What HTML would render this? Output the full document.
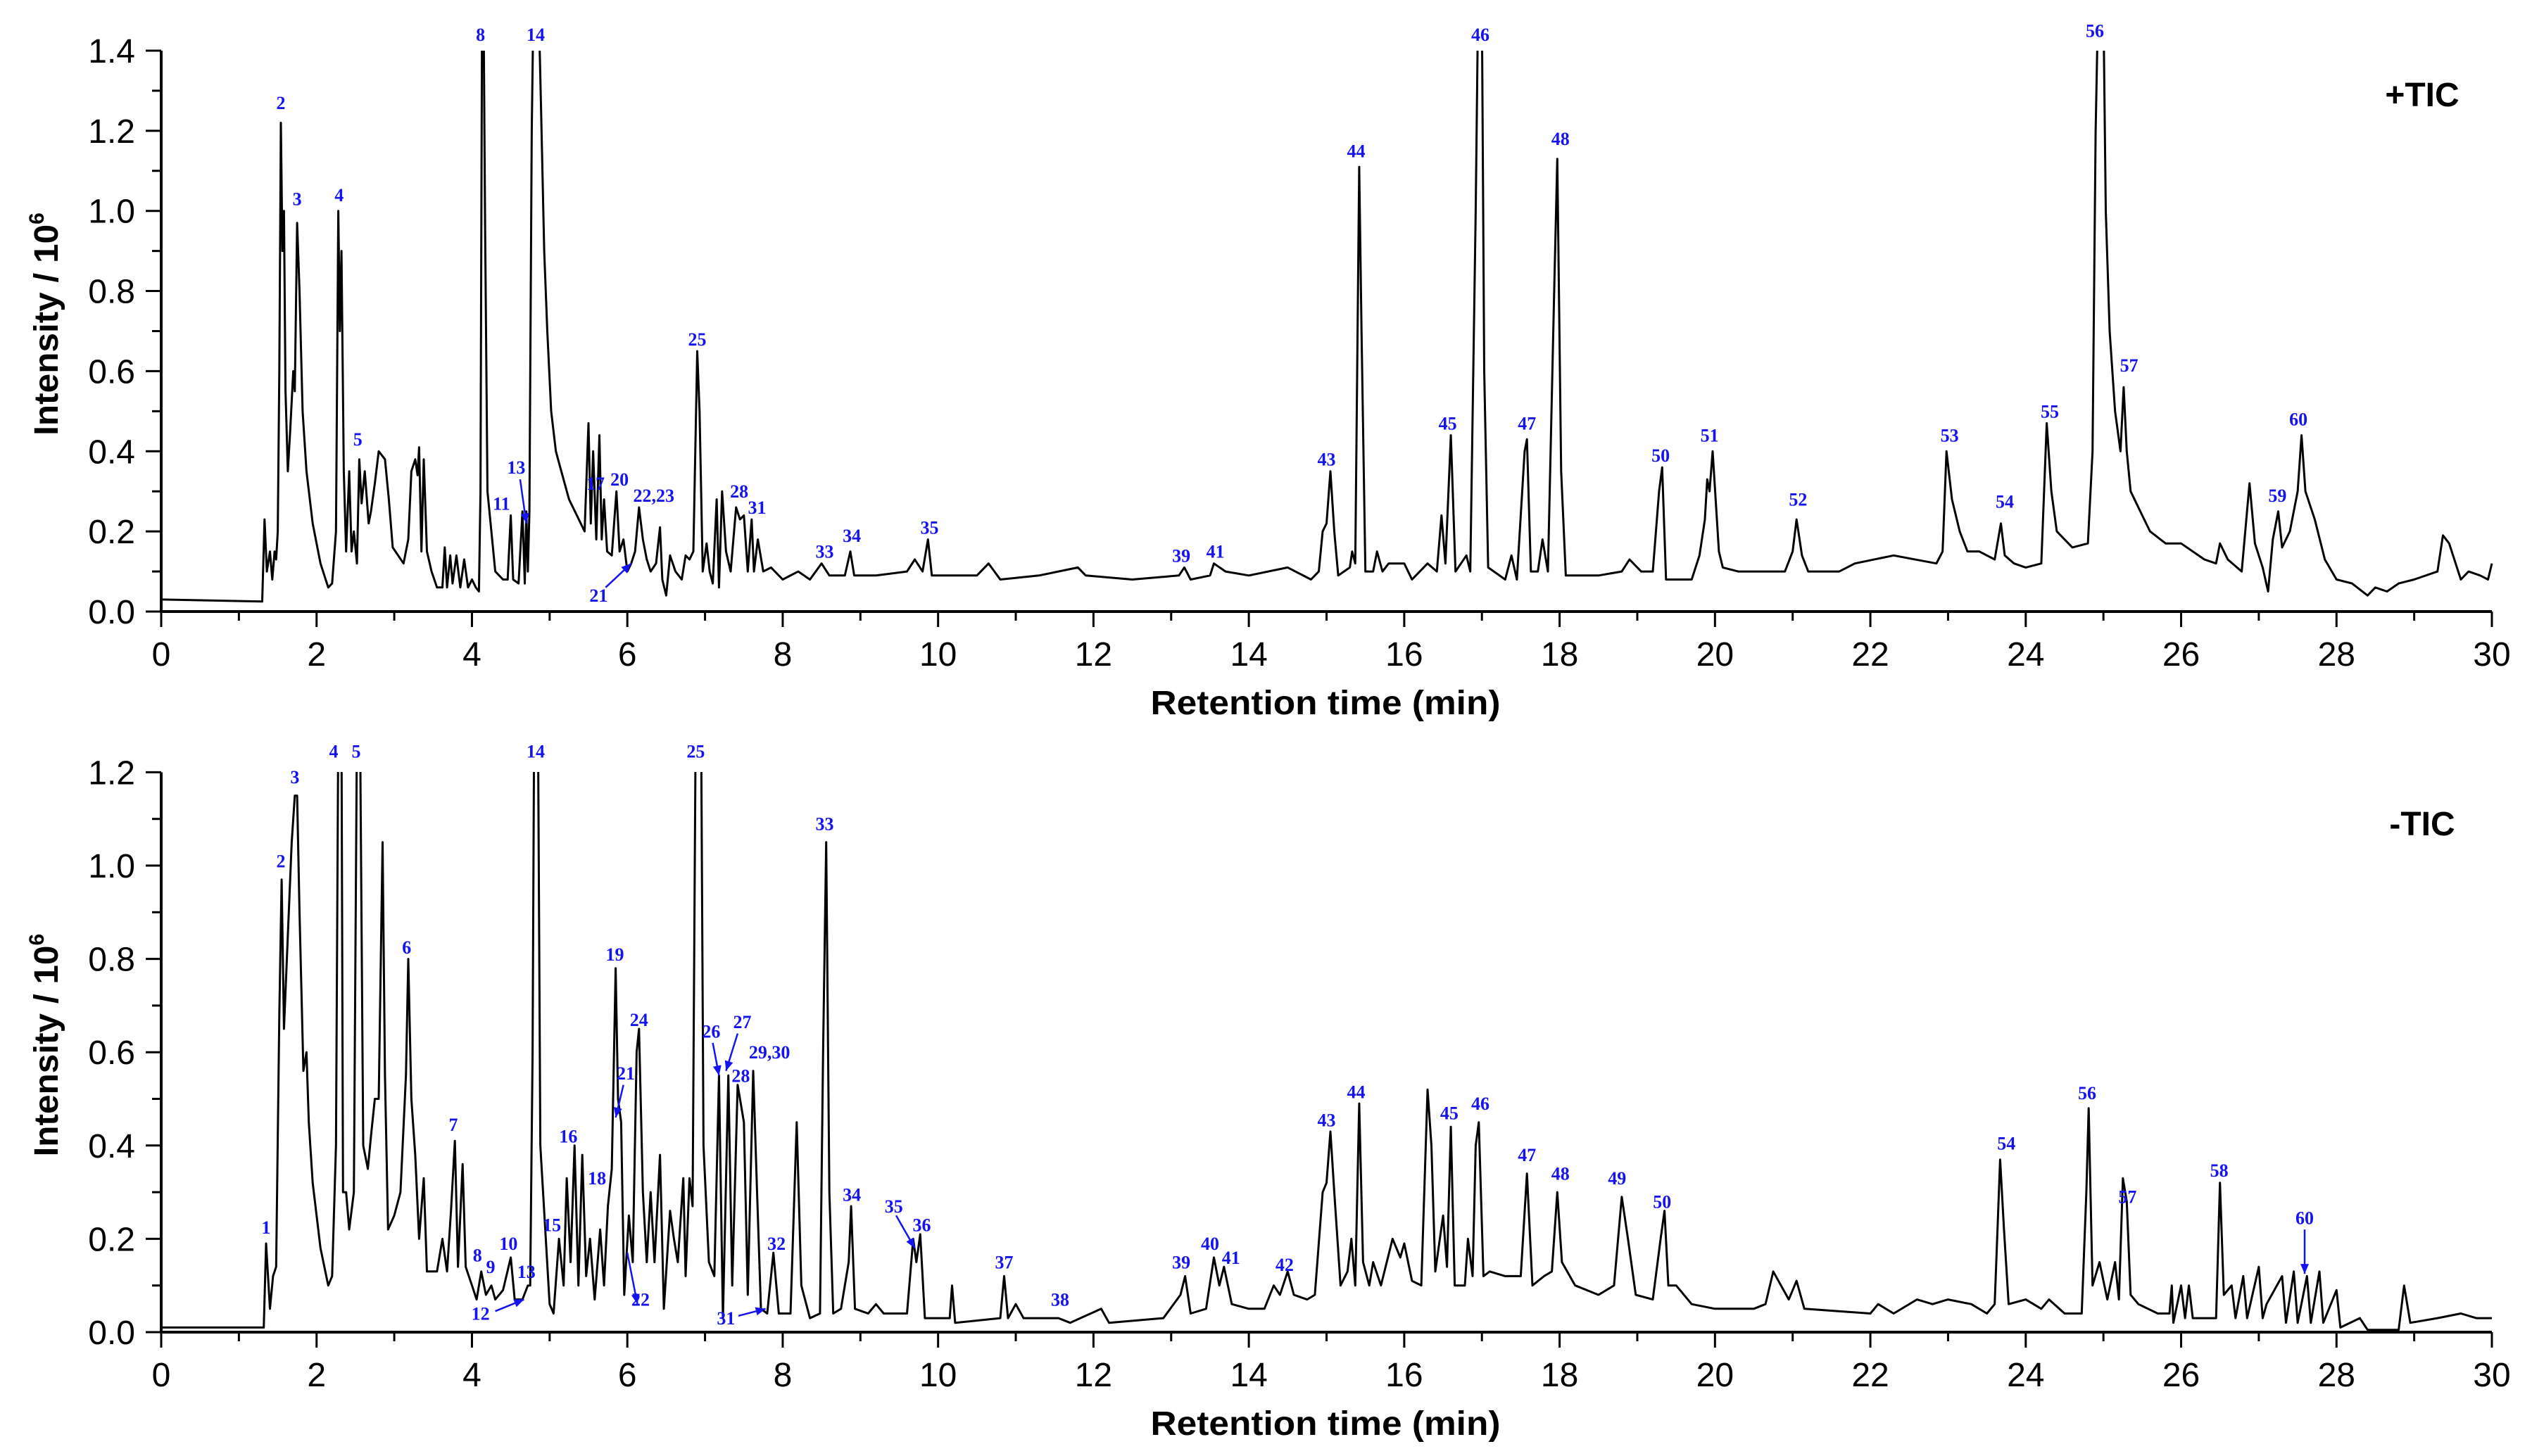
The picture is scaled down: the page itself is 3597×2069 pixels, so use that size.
<!DOCTYPE html>
<html>
<head>
<meta charset="utf-8">
<style>
html,body{margin:0;padding:0;background:#fff;}
svg{display:block;}
text{font-family:"Liberation Sans",sans-serif;}
.tick{font-size:48px;fill:#000;}
.lbl{font-family:"Liberation Serif",serif;font-weight:bold;font-size:26px;fill:#1414f0;}
.ttl{font-weight:bold;font-size:48px;fill:#000;}
</style>
</head>
<body>
<svg id="chart" width="3597" height="2069" viewBox="0 0 3597 2069" xmlns="http://www.w3.org/2000/svg">
<defs>
<clipPath id="clipTop"><rect x="229" y="72" width="3315" height="800"/></clipPath>
<clipPath id="clipBot"><rect x="229" y="1097" width="3315" height="800"/></clipPath>
</defs>
<g id="top"></g>
<g id="bot"></g>
</svg>
<script>
// ---------- +TIC data (time in min, intensity in 10^6) ----------
const posTime = [0,1.3,1.33,1.36,1.4,1.43,1.46,1.48,1.5,1.52,1.54,1.56,1.58,1.6,1.63,1.66,1.7,1.72,1.75,1.78,1.82,1.87,1.95,2.05,2.15,2.2,2.25,2.28,2.3,2.32,2.35,2.38,2.42,2.45,2.48,2.52,2.55,2.58,2.62,2.67,2.7,2.75,2.8,2.88,2.93,2.98,3.05,3.12,3.18,3.22,3.27,3.3,3.32,3.35,3.38,3.42,3.48,3.55,3.62,3.65,3.68,3.72,3.75,3.8,3.85,3.9,3.95,4.0,4.05,4.09,4.11,4.13,4.15,4.17,4.2,4.3,4.4,4.46,4.5,4.53,4.6,4.65,4.68,4.7,4.72,4.74,4.77,4.79,4.86,4.89,4.93,4.97,5.02,5.08,5.15,5.25,5.35,5.45,5.5,5.53,5.56,5.6,5.64,5.67,5.7,5.74,5.8,5.86,5.9,5.95,6.0,6.05,6.1,6.15,6.2,6.25,6.3,6.37,6.42,6.45,6.5,6.55,6.62,6.7,6.75,6.8,6.85,6.9,6.93,6.97,7.02,7.06,7.1,7.15,7.18,7.22,7.27,7.33,7.4,7.45,7.5,7.55,7.6,7.63,7.68,7.75,7.85,8.0,8.2,8.35,8.5,8.6,8.8,8.87,8.92,9.2,9.6,9.7,9.8,9.87,9.92,10.5,10.65,10.8,11.3,11.8,11.9,12.5,13.1,13.17,13.25,13.5,13.55,13.7,14.0,14.5,14.8,14.9,14.95,15.0,15.05,15.1,15.15,15.3,15.33,15.37,15.4,15.42,15.45,15.5,15.6,15.65,15.72,15.8,16.0,16.1,16.3,16.42,16.48,16.53,16.6,16.66,16.8,16.85,16.92,16.95,17.0,17.03,17.08,17.3,17.38,17.45,17.55,17.58,17.63,17.72,17.78,17.85,17.93,17.97,18.02,18.08,18.5,18.8,18.9,19.05,19.2,19.28,19.32,19.37,19.7,19.8,19.87,19.9,19.93,19.97,20.05,20.1,20.3,20.9,21.0,21.05,21.12,21.2,21.6,21.8,22.3,22.85,22.93,22.98,23.05,23.15,23.25,23.4,23.6,23.68,23.73,23.85,24.0,24.2,24.27,24.33,24.4,24.6,24.8,24.86,24.9,24.93,25.0,25.03,25.08,25.15,25.22,25.26,25.3,25.35,25.5,25.6,25.8,26.0,26.3,26.45,26.5,26.6,26.78,26.88,26.95,27.05,27.12,27.18,27.25,27.3,27.4,27.5,27.55,27.6,27.72,27.85,28.0,28.2,28.4,28.5,28.65,28.8,29.0,29.3,29.37,29.45,29.6,29.7,29.85,29.95,30];
const posValue = [0.03,0.025,0.23,0.1,0.15,0.08,0.15,0.13,0.2,0.6,1.22,0.9,1.0,0.55,0.35,0.45,0.6,0.55,0.97,0.8,0.5,0.35,0.22,0.12,0.06,0.07,0.2,1.0,0.7,0.9,0.35,0.15,0.35,0.15,0.2,0.12,0.38,0.27,0.35,0.22,0.25,0.32,0.4,0.38,0.28,0.16,0.14,0.12,0.18,0.35,0.38,0.34,0.41,0.15,0.38,0.15,0.1,0.06,0.06,0.16,0.06,0.14,0.07,0.14,0.06,0.13,0.06,0.08,0.06,0.05,0.3,1.5,1.5,0.95,0.3,0.1,0.08,0.08,0.24,0.08,0.07,0.25,0.07,0.25,0.1,0.25,1.2,1.5,1.5,1.25,0.9,0.7,0.5,0.4,0.35,0.28,0.24,0.2,0.47,0.22,0.4,0.18,0.44,0.18,0.28,0.15,0.14,0.3,0.15,0.18,0.1,0.12,0.15,0.26,0.18,0.13,0.1,0.12,0.21,0.08,0.04,0.14,0.1,0.08,0.14,0.13,0.15,0.65,0.5,0.1,0.17,0.1,0.07,0.28,0.06,0.3,0.15,0.1,0.26,0.23,0.24,0.1,0.23,0.1,0.18,0.1,0.11,0.08,0.1,0.08,0.12,0.09,0.09,0.15,0.09,0.09,0.1,0.13,0.1,0.18,0.09,0.09,0.12,0.08,0.09,0.11,0.09,0.08,0.09,0.11,0.08,0.09,0.12,0.1,0.09,0.11,0.08,0.1,0.2,0.22,0.35,0.2,0.09,0.11,0.15,0.12,0.7,1.11,0.7,0.1,0.1,0.15,0.1,0.12,0.12,0.08,0.12,0.1,0.24,0.12,0.44,0.1,0.14,0.1,1.0,1.5,1.5,0.6,0.11,0.08,0.14,0.08,0.4,0.43,0.1,0.1,0.18,0.1,0.8,1.13,0.35,0.09,0.09,0.1,0.13,0.1,0.1,0.3,0.36,0.08,0.08,0.14,0.23,0.33,0.3,0.4,0.15,0.11,0.1,0.1,0.15,0.23,0.14,0.1,0.1,0.12,0.14,0.12,0.15,0.4,0.28,0.2,0.15,0.15,0.13,0.22,0.14,0.12,0.11,0.12,0.47,0.3,0.2,0.16,0.17,0.4,1.2,1.5,1.5,1.0,0.7,0.5,0.4,0.56,0.4,0.3,0.24,0.2,0.17,0.17,0.13,0.12,0.17,0.13,0.1,0.32,0.17,0.11,0.05,0.18,0.25,0.16,0.2,0.3,0.44,0.3,0.23,0.13,0.08,0.07,0.04,0.06,0.05,0.07,0.08,0.1,0.19,0.17,0.08,0.1,0.09,0.08,0.12];
const posLabels = ["2","3","4","5","8","14","11","13","17","20","22,23","21","25","28","31","33","34","35","39","41","43","44","45","46","47","48","50","51","52","53","54","55","56","57","59","60"];
const posLabelT = [1.54,1.75,2.29,2.53,4.11,4.82,4.38,4.57,5.59,5.9,6.34,5.63,6.9,7.44,7.67,8.54,8.89,9.89,13.13,13.57,15.0,15.38,16.56,16.98,17.58,18.01,19.3,19.93,21.07,23.02,23.73,24.31,24.89,25.33,27.24,27.51];
const posLabelV = [1.27,1.03,1.04,0.43,1.44,1.44,0.27,0.36,0.32,0.33,0.29,0.04,0.68,0.3,0.26,0.15,0.19,0.21,0.14,0.15,0.38,1.15,0.47,1.44,0.47,1.18,0.39,0.44,0.28,0.44,0.275,0.5,1.45,0.615,0.29,0.48];
const posArrowFrom = [[4.62,0.33],[5.72,0.06]];
const posArrowTo = [[4.7,0.22],[6.05,0.12]];

// ---------- -TIC data ----------
const negTime = [0,1.3,1.32,1.35,1.4,1.44,1.48,1.52,1.55,1.58,1.63,1.68,1.72,1.75,1.78,1.83,1.87,1.9,1.95,2.05,2.15,2.2,2.25,2.28,2.32,2.34,2.38,2.42,2.48,2.52,2.56,2.6,2.66,2.7,2.75,2.8,2.85,2.88,2.92,3.0,3.08,3.15,3.18,3.22,3.27,3.32,3.38,3.42,3.55,3.62,3.68,3.73,3.78,3.82,3.88,3.92,4.0,4.06,4.12,4.18,4.25,4.3,4.4,4.5,4.55,4.65,4.72,4.75,4.78,4.8,4.85,4.88,5.0,5.05,5.12,5.18,5.22,5.27,5.32,5.37,5.42,5.47,5.52,5.58,5.65,5.7,5.75,5.8,5.85,5.88,5.92,5.96,6.02,6.07,6.12,6.15,6.2,6.25,6.3,6.35,6.42,6.47,6.55,6.6,6.65,6.72,6.75,6.8,6.84,6.88,6.95,6.98,7.05,7.12,7.18,7.23,7.3,7.35,7.42,7.5,7.55,7.62,7.67,7.72,7.8,7.88,7.95,8.1,8.18,8.24,8.35,8.48,8.52,8.56,8.6,8.65,8.75,8.85,8.88,8.93,9.1,9.2,9.3,9.6,9.68,9.72,9.77,9.83,10.15,10.18,10.22,10.8,10.85,10.9,11.0,11.1,11.55,11.7,12.1,12.2,12.9,13.12,13.18,13.25,13.45,13.55,13.62,13.68,13.78,14.0,14.2,14.32,14.4,14.5,14.58,14.75,14.85,14.95,15.0,15.05,15.1,15.18,15.27,15.32,15.37,15.42,15.47,15.55,15.6,15.7,15.85,15.95,16.0,16.1,16.22,16.3,16.35,16.4,16.5,16.55,16.6,16.65,16.78,16.82,16.88,16.92,16.96,17.02,17.1,17.3,17.4,17.5,17.58,17.65,17.8,17.9,17.97,18.03,18.2,18.5,18.7,18.8,18.88,18.98,19.2,19.3,19.35,19.4,19.5,19.7,20.0,20.5,20.65,20.75,20.85,20.95,21.05,21.15,22.0,22.1,22.3,22.6,22.8,23.0,23.3,23.5,23.6,23.67,23.72,23.78,24.0,24.2,24.3,24.5,24.72,24.78,24.81,24.86,24.95,25.05,25.15,25.2,25.25,25.3,25.35,25.45,25.7,25.85,25.88,25.9,26.0,26.05,26.1,26.15,26.45,26.5,26.55,26.65,26.7,26.8,26.85,27.0,27.05,27.1,27.3,27.35,27.45,27.5,27.62,27.67,27.78,27.83,28.0,28.05,28.3,28.4,28.8,28.87,28.95,29.3,29.6,29.8,30];
const negValue = [0.01,0.01,0.01,0.19,0.05,0.12,0.14,0.68,0.97,0.65,0.85,1.05,1.15,1.15,0.9,0.56,0.6,0.45,0.32,0.18,0.1,0.12,0.4,1.3,1.3,0.3,0.3,0.22,0.3,1.3,1.3,0.4,0.35,0.42,0.5,0.5,1.05,0.55,0.22,0.25,0.3,0.55,0.8,0.5,0.38,0.2,0.33,0.13,0.13,0.2,0.13,0.26,0.41,0.14,0.36,0.14,0.1,0.07,0.13,0.08,0.1,0.07,0.09,0.16,0.07,0.07,0.1,0.1,0.6,1.3,1.3,0.4,0.06,0.04,0.2,0.1,0.33,0.15,0.4,0.1,0.38,0.12,0.2,0.07,0.22,0.1,0.27,0.35,0.78,0.5,0.45,0.08,0.25,0.15,0.6,0.65,0.3,0.15,0.3,0.15,0.38,0.05,0.26,0.2,0.15,0.33,0.12,0.33,0.27,1.3,1.3,0.4,0.15,0.12,0.55,0.03,0.55,0.1,0.53,0.45,0.08,0.56,0.3,0.05,0.04,0.17,0.04,0.04,0.45,0.1,0.03,0.04,0.6,1.05,0.3,0.04,0.05,0.15,0.27,0.05,0.04,0.06,0.04,0.04,0.2,0.15,0.21,0.03,0.03,0.1,0.02,0.03,0.12,0.03,0.06,0.03,0.03,0.02,0.05,0.02,0.03,0.08,0.12,0.04,0.05,0.16,0.1,0.14,0.06,0.05,0.05,0.1,0.08,0.13,0.08,0.07,0.08,0.3,0.32,0.43,0.3,0.1,0.13,0.2,0.1,0.49,0.15,0.1,0.15,0.1,0.2,0.16,0.19,0.11,0.1,0.52,0.4,0.13,0.25,0.14,0.44,0.1,0.1,0.2,0.12,0.4,0.45,0.12,0.13,0.12,0.12,0.12,0.34,0.1,0.12,0.13,0.3,0.15,0.1,0.08,0.1,0.29,0.2,0.08,0.07,0.2,0.26,0.1,0.1,0.06,0.05,0.05,0.06,0.13,0.1,0.07,0.11,0.05,0.04,0.06,0.04,0.07,0.06,0.07,0.06,0.04,0.06,0.37,0.22,0.06,0.07,0.05,0.07,0.04,0.04,0.3,0.48,0.1,0.15,0.07,0.15,0.07,0.33,0.28,0.08,0.06,0.04,0.04,0.1,0.02,0.1,0.03,0.1,0.03,0.03,0.32,0.08,0.1,0.03,0.12,0.03,0.14,0.03,0.06,0.12,0.02,0.13,0.02,0.12,0.02,0.13,0.02,0.09,0.01,0.03,0.005,0.005,0.1,0.02,0.03,0.04,0.03,0.03];
const negLabels = ["1","2","3","4","5","6","7","8","9","10","12","13","14","15","16","18","19","21","22","24","25","26","27","28","29,30","31","32","33","34","35","36","37","38","39","40","41","42","43","44","45","46","47","48","49","50","54","56","57","58","60"];
const negLabelT = [1.35,1.54,1.72,2.22,2.51,3.16,3.76,4.07,4.24,4.47,4.11,4.7,4.82,5.03,5.24,5.61,5.84,5.98,6.17,6.15,6.88,7.08,7.48,7.46,7.83,7.27,7.92,8.54,8.89,9.43,9.79,10.85,11.57,13.13,13.5,13.77,14.46,15.0,15.38,16.58,16.98,17.58,18.01,18.74,19.32,23.75,24.79,25.31,26.49,27.59];
const negLabelV = [0.225,1.01,1.19,1.245,1.245,0.825,0.445,0.165,0.14,0.19,0.04,0.13,1.245,0.23,0.42,0.33,0.81,0.555,0.07,0.67,1.245,0.645,0.665,0.55,0.6,0.03,0.19,1.09,0.295,0.27,0.23,0.15,0.07,0.15,0.19,0.16,0.145,0.455,0.515,0.47,0.49,0.38,0.34,0.33,0.28,0.405,0.513,0.29,0.347,0.245];
const negArrowFrom = [[4.3,0.045],[6.0,0.17],[5.95,0.53],[7.1,0.62],[7.42,0.64],[7.43,0.035],[9.46,0.25]];
const negArrowTo = [[4.67,0.07],[6.13,0.06],[5.85,0.46],[7.18,0.55],[7.27,0.56],[7.78,0.05],[9.7,0.18]];
const negArrow60From = [[27.59,0.22]];
const negArrow60To = [[27.59,0.125]];

// ---------- axis helpers ----------
const NS = "http://www.w3.org/2000/svg";
const X0 = 229, X1 = 3540, TMAX = 30;
function xS(t){ return X0 + t*(X1-X0)/TMAX; }
function mk(tag, parent){ const e=document.createElementNS(NS,tag); parent.appendChild(e); return e; }

function drawPanel(g, y0, pxPerUnit, vmax, clipId, times, vals, labels, lt, lv, afrom, ato, title, tag){
  const yS = v => y0 - v*pxPerUnit;
  const path = mk("path", g);
  
  
  let d = "";
  for (let i=0;i<times.length;i++){ d += (i?"L":"M") + xS(times[i]).toFixed(1) + " " + yS(vals[i]).toFixed(1); }
  path.setAttribute("d", d);
  path.setAttribute("fill","none"); path.setAttribute("stroke","#000");
  path.setAttribute("stroke-width","3"); path.setAttribute("stroke-linejoin","round");
  path.setAttribute("clip-path","url(#"+clipId+")");
  const ax = mk("path", g);
  
  
  ax.setAttribute("d","M"+X0+" "+yS(vmax)+" L"+X0+" "+y0+" L"+X1+" "+y0);
  ax.setAttribute("fill","none"); ax.setAttribute("stroke","#000"); ax.setAttribute("stroke-width","4");
  for (let t=0;t<=TMAX;t++){
    const major = t%2===0;
    const tk = mk("line", g);
    
    
    tk.setAttribute("x1",xS(t)); tk.setAttribute("x2",xS(t));
    tk.setAttribute("y1",y0); tk.setAttribute("y2",y0+(major?22:13));
    tk.setAttribute("stroke","#000"); tk.setAttribute("stroke-width","3");
    if (major){
      const tx = mk("text", g);
      
      
      tx.setAttribute("class","tick"); tx.setAttribute("x",xS(t)); tx.setAttribute("y",y0+77);
      tx.setAttribute("text-anchor","middle"); tx.textContent = String(t);
    }
  }
  const nMinor = Math.round(vmax*10);
  for (let k=0;k<=nMinor;k++){
    const v = k/10, major = k%2===0;
    const tk = mk("line", g);
    
    
    tk.setAttribute("x1",X0); tk.setAttribute("x2",X0-(major?22:13));
    tk.setAttribute("y1",yS(v)); tk.setAttribute("y2",yS(v));
    tk.setAttribute("stroke","#000"); tk.setAttribute("stroke-width","3");
    if (major){
      const tx = mk("text", g);
      
      
      tx.setAttribute("class","tick"); tx.setAttribute("x",192); tx.setAttribute("y",yS(v)+17);
      tx.setAttribute("text-anchor","end"); tx.textContent = v.toFixed(1);
    }
  }
  for (let i=0;i<labels.length;i++){
    const tx = mk("text", g);
    
    
    tx.setAttribute("class","lbl"); tx.setAttribute("x",xS(lt[i])); tx.setAttribute("y",yS(lv[i])+9);
    tx.setAttribute("text-anchor","middle"); tx.textContent = labels[i];
  }
  for (let i=0;i<afrom.length;i++){
    const x1=xS(afrom[i][0]), y1=yS(afrom[i][1]), x2=xS(ato[i][0]), y2=yS(ato[i][1]);
    const ln = mk("line", g);
    
    
    ln.setAttribute("x1",x1); ln.setAttribute("y1",y1); ln.setAttribute("x2",x2); ln.setAttribute("y2",y2);
    ln.setAttribute("stroke","#1414f0"); ln.setAttribute("stroke-width","2.5");
    const ang = Math.atan2(y2-y1,x2-x1), L=14, W=6;
    const hx = x2-L*Math.cos(ang), hy = y2-L*Math.sin(ang);
    const hd = mk("polygon", g);
    
    
    hd.setAttribute("points", x2+","+y2+" "+(hx+W*Math.sin(ang))+","+(hy-W*Math.cos(ang))+" "+(hx-W*Math.sin(ang))+","+(hy+W*Math.cos(ang)));
    hd.setAttribute("fill","#1414f0");
  }
  const xt = mk("text", g);
  
  
  xt.setAttribute("class","ttl"); xt.setAttribute("x",1883); xt.setAttribute("y",y0+146);
  xt.setAttribute("text-anchor","middle"); xt.setAttribute("textLength","497"); xt.setAttribute("lengthAdjust","spacingAndGlyphs");
  xt.textContent = "Retention time (min)";
  const cy = y0 - vmax*pxPerUnit/2 - 10;
  const yt = mk("text", g);
  
  
  yt.setAttribute("class","ttl");
  yt.setAttribute("transform","translate(82,"+cy+") rotate(-90)");
  yt.setAttribute("text-anchor","middle");
  const s1 = mk("tspan", yt); s1.textContent = "Intensity / 10";
  s1.setAttribute("textLength","300"); s1.setAttribute("lengthAdjust","spacingAndGlyphs");
  const s2 = mk("tspan", yt); s2.textContent = "6"; s2.setAttribute("dy","-20"); s2.setAttribute("font-size","30");
  const pt = mk("text", g);
  
  
  pt.setAttribute("class","ttl"); pt.setAttribute("font-size","56");
  pt.setAttribute("x",3441); pt.setAttribute("y",title.y); pt.setAttribute("text-anchor","middle");
  pt.textContent = title.text;
}

drawPanel(document.getElementById("top"), 869, 569.3, 1.4, "clipTop", posTime, posValue, posLabels, posLabelT, posLabelV, posArrowFrom, posArrowTo, {text:"+TIC", y:151}, "positive-tic");
drawPanel(document.getElementById("bot"), 1893, 663, 1.2, "clipBot", negTime, negValue, negLabels, negLabelT, negLabelV, negArrowFrom.concat(negArrow60From), negArrowTo.concat(negArrow60To), {text:"-TIC", y:1187}, "negative-tic");
</script>
</body>
</html>
